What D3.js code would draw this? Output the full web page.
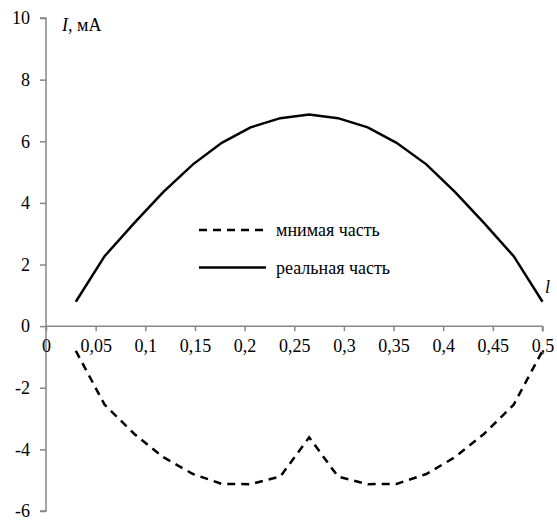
<!DOCTYPE html>
<html><head><meta charset="utf-8">
<script src="https://cdn.jsdelivr.net/npm/d3@7"></script>
<style>body{margin:0;background:#fff}svg{display:block}text{font-family:"Liberation Serif","Tinos","Times New Roman","DejaVu Serif","Noto Serif",serif !important;fill:#000}</style>
</head><body>
<script>
const xValues = [0.03, 0.059, 0.089, 0.118, 0.148, 0.177, 0.206, 0.236, 0.265, 0.294, 0.324, 0.353, 0.383, 0.412, 0.441, 0.471, 0.5];
const realPart = [0.79, 2.27, 3.35, 4.35, 5.25, 5.95, 6.45, 6.75, 6.87, 6.75, 6.45, 5.95, 5.25, 4.35, 3.35, 2.27, 0.79];
const imagPart = [-0.8, -2.55, -3.5, -4.25, -4.8, -5.12, -5.13, -4.88, -3.61, -4.88, -5.13, -5.12, -4.8, -4.25, -3.5, -2.55, -0.8];
const xTicks = [0, 0.05, 0.1, 0.15, 0.2, 0.25, 0.3, 0.35, 0.4, 0.45, 0.5];
const yTicks = [-6, -4, -2, 0, 2, 4, 6, 8, 10];
const seriesNames = ["мнимая часть", "реальная часть"];

const W = 557, H = 520;
const svg = d3.select("body").append("svg").attr("width", W).attr("height", H);
const x = d3.scaleLinear().domain([0, 0.5]).range([46, 542.5]);
const y = d3.scaleLinear().domain([-6, 10]).range([511, 18]);
const fmt = d => String(d).replace(".", ",");
const axisColor = "#868686";
const FONT = "Liberation Serif, Times New Roman, serif";

// y axis
const yAxis = svg.append("g").attr("transform", `translate(${x(0)},0)`)
  .call(d3.axisLeft(y).tickValues(yTicks).tickSize(6).tickPadding(10).tickFormat(d => String(d)));
yAxis.attr("font-family", FONT);
yAxis.select(".domain").attr("stroke", axisColor).attr("stroke-width", 1.5).attr("d", `M-6,${y(10)}H0V${y(-6)}H-6`);
yAxis.selectAll(".tick line").attr("stroke", axisColor).attr("stroke-width", 1.5);
yAxis.selectAll(".tick text").attr("font-size", 18).attr("fill", "#000");

// x axis
const xAxis = svg.append("g").attr("transform", `translate(0,${y(0)})`)
  .call(d3.axisBottom(x).tickValues(xTicks).tickSize(5).tickPadding(8).tickFormat(fmt));
xAxis.attr("font-family", FONT);
xAxis.select(".domain").attr("stroke", axisColor).attr("stroke-width", 1.5).attr("d", `M${x(0)},0H${x(0.5)}V5`);
xAxis.selectAll(".tick line").attr("stroke", axisColor).attr("stroke-width", 1.5);
xAxis.selectAll(".tick text").attr("font-size", 18).attr("fill", "#000");

// lines
const line = (vals) => d3.line().x((d, i) => x(xValues[i])).y(d => y(d))(vals);
svg.append("path").attr("d", line(realPart)).attr("fill", "none").attr("stroke", "#000").attr("stroke-width", 2.5);
svg.append("path").attr("d", line(imagPart)).attr("fill", "none").attr("stroke", "#000").attr("stroke-width", 2.5).attr("stroke-dasharray", "8,6");

// axis titles
const t1 = svg.append("text").attr("x", 62).attr("y", 31).attr("font-size", 18);
t1.append("tspan").attr("font-style", "italic").text("I");
t1.append("tspan").text(", мА");
svg.append("text").attr("x", 545).attr("y", 293).attr("font-size", 18).attr("font-style", "italic").text("l");

// legend
const lg = svg.append("g");
[[230, "8,6"], [267.5, null]].forEach(([ly, dash], i) => {
  lg.append("line").attr("x1", 199).attr("x2", 266).attr("y1", ly).attr("y2", ly)
    .attr("stroke", "#000").attr("stroke-width", 2.5).attr("stroke-dasharray", dash);
  lg.append("text").attr("x", 276).attr("y", ly + 6).attr("font-size", 18).text(seriesNames[i]);
});
</script>
</body></html>
